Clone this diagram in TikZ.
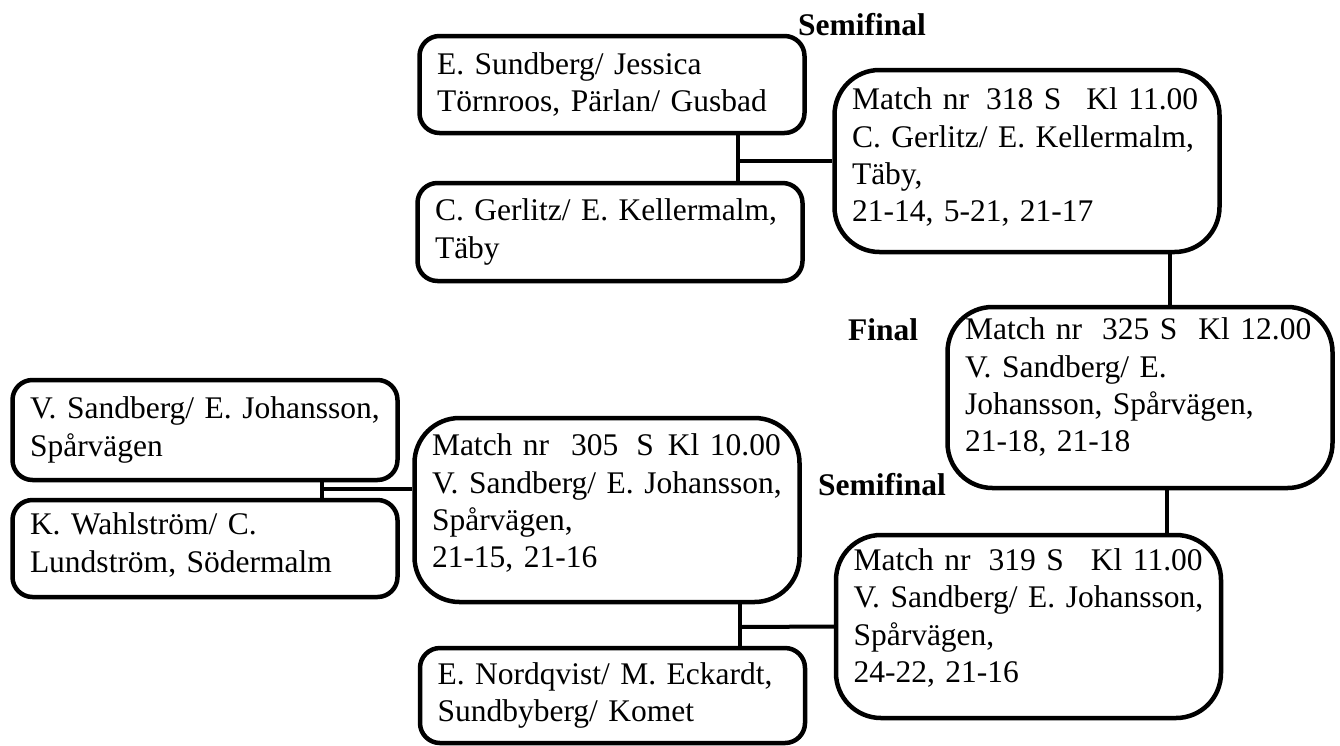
\documentclass[tikz,border=0pt]{standalone}
\usepackage{fontspec}
\setmainfont{Liberation Serif}
% extra depth under the last line of a match box
\newcommand{\tailgap}[1]{\rule[-#1]{0pt}{0pt}}

\begin{document}
\begin{tikzpicture}[x=1pt,y=-1pt,
  every node/.style={font=\fontsize{31.5}{37.3}\selectfont},
  teambox/.style={draw,line width=4.5pt,rounded corners=20pt,align=left,
    text width=350pt,inner xsep=17.5pt,inner ysep=0pt,minimum height=97pt},
  matchbox/.style={teambox,rounded corners=45pt,minimum height=182pt},
  roundlabel/.style={font=\fontsize{31.5}{37.3}\selectfont\bfseries,inner sep=0pt,anchor=base west},
  link/.style={line width=4pt}]
  \useasboundingbox (0,0) rectangle (1340,745);

  % upper semifinal
  \node[roundlabel] (semi1) at (798,35) {Semifinal};
  \node[teambox] (sundberg) at (612,84.5) {E. Sundberg/ Jessica\\Törnroos, Pärlan/ Gusbad};
  \node[teambox,minimum height=98pt] (gerlitz) at (610,232) {C. Gerlitz/ E. Kellermalm,\\Täby};
  \node[matchbox] (m318) at (1027,161)
    {\mbox{Match nr\hspace{17pt}318 S\hspace{25pt}Kl 11.00}\\C. Gerlitz/ E. Kellermalm,\\Täby,\\21-14, 5-21, 21-17\tailgap{12pt}};

  % final
  \node[roundlabel] (final) at (848,340) {Final};
  \node[matchbox,minimum height=181pt] (m325) at (1140,397.5)
    {\mbox{Match nr\hspace{20pt}325 S\hspace{21pt}Kl 12.00}\\V. Sandberg/ E.\\Johansson, Spårvägen,\\21-18, 21-18\tailgap{25pt}};

  % lower semifinal
  \node[teambox,minimum height=100pt] (vsand) at (205,430) {V. Sandberg/ E. Johansson,\\Spårvägen};
  \node[teambox] (wahl) at (205,548.5) {K. Wahlström/ C.\\Lundström, Södermalm\tailgap{12pt}};
  \node[matchbox,minimum height=184pt] (m305) at (607,510)
    {\mbox{Match nr\hspace{22pt}305\hspace{18pt}S\hspace{14pt}Kl 10.00}\\V. Sandberg/ E. Johansson,\\Spårvägen,\\21-15, 21-16\tailgap{18pt}};
  \node[teambox,minimum height=95pt] (nordq) at (612.5,695.5) {E. Nordqvist/ M. Eckardt,\\Sundbyberg/ Komet};
  \node[roundlabel] (semi2) at (818,495) {Semifinal};
  \node[matchbox,minimum height=183pt] (m319) at (1028.5,626.5)
    {\mbox{Match nr\hspace{18pt}319 S\hspace{27pt}Kl 11.00}\\V. Sandberg/ E. Johansson,\\Spårvägen,\\24-22, 21-16\tailgap{22pt}};

  % bracket lines
  \coordinate (j1) at (738,161);
  \draw[link] (sundberg.south -| j1) -- (gerlitz.north -| j1);
  \draw[link] (j1) -- (m318.west);
  \coordinate (j2) at (1170,280);
  \draw[link] (m318.south -| j2) -- (m325.north -| j2);
  \coordinate (j3) at (1167,510);
  \draw[link] (m325.south -| j3) -- (m319.north -| j3);
  \coordinate (j4) at (322,489);
  \draw[link] (vsand.south -| j4) -- (wahl.north -| j4);
  \draw[link] (j4) -- (j4 -| m305.west);
  \coordinate (j5) at (740,627);
  \draw[link] (m305.south -| j5) -- (nordq.north -| j5);
  \draw[link] (j5) -- (m319.west);
\end{tikzpicture}
\end{document}
